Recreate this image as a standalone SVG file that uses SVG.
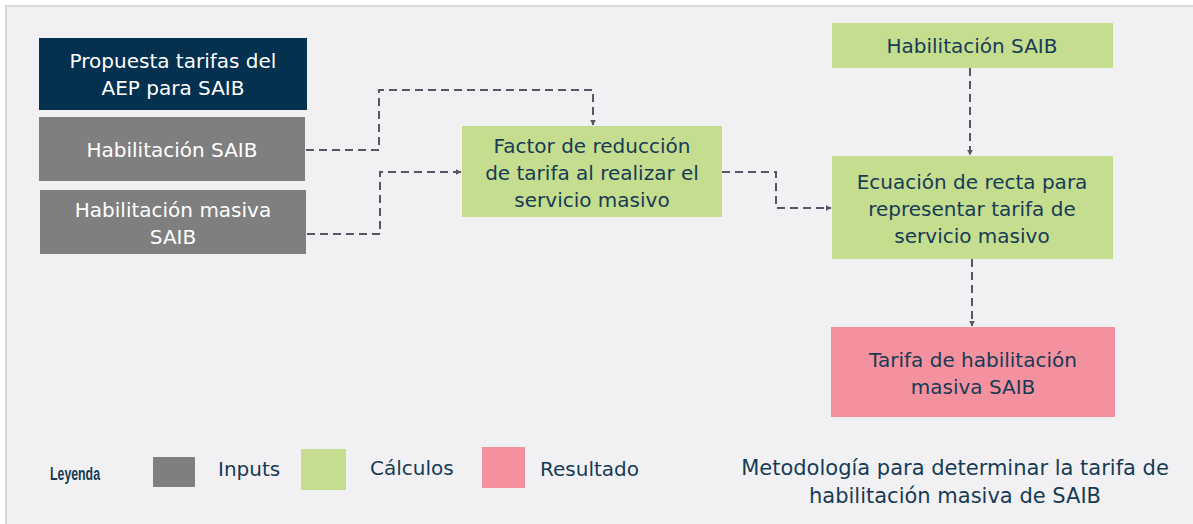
<svg xmlns="http://www.w3.org/2000/svg" width="1193" height="524" viewBox="0 0 1193 524">
<defs>
<marker id="arr" viewBox="0 0 10 10" refX="9" refY="5" markerWidth="6" markerHeight="6" orient="auto" markerUnits="userSpaceOnUse">
<path d="M0,0 L10,5 L0,10 z" fill="#5B5366"/>
</marker>
<style>
.t{font-family:"DejaVu Sans","Liberation Sans",Arial,sans-serif;font-size:20px;text-anchor:middle}
.w{fill:#FFFFFF}
.d{fill:#173B55}
.c{fill:none;stroke:#5B5366;stroke-width:2;stroke-dasharray:8,5;marker-end:url(#arr)}
.g{fill:#7F7F7F}
.gr{fill:#C5DD8F}
.p{fill:#F4919F}
.l{font-family:"DejaVu Sans","Liberation Sans",Arial,sans-serif;font-size:20px;fill:#173B55}
</style>
</defs>
<rect x="0" y="0" width="1193" height="524" fill="#FFFFFF"/>
<rect x="5" y="5" width="1188" height="519" fill="#F1F1F3"/>
<rect x="5" y="5" width="1188" height="2" fill="#D9D9D9"/>
<rect x="5" y="5" width="2" height="519" fill="#D9D9D9"/>

<g id="n-propuesta">
<rect x="39" y="38" width="268" height="72" fill="#03314F"/>
<text class="t w" x="173" y="68">Propuesta tarifas del</text>
<text class="t w" x="173" y="95">AEP para SAIB</text>
</g>
<g id="n-habilitacion">
<rect class="g" x="39" y="117" width="266" height="64"/>
<text class="t w" x="172" y="157">Habilitación SAIB</text>
</g>
<g id="n-habmasiva">
<rect class="g" x="40" y="190" width="266" height="64"/>
<text class="t w" x="173" y="217">Habilitación masiva</text>
<text class="t w" x="173" y="244">SAIB</text>
</g>
<g id="n-factor">
<rect class="gr" x="462" y="126" width="260" height="91"/>
<text class="t d" x="592" y="153">Factor de reducción</text>
<text class="t d" x="592" y="180">de tarifa al realizar el</text>
<text class="t d" x="592" y="207">servicio masivo</text>
</g>
<g id="n-habtop">
<rect class="gr" x="832" y="23" width="281" height="45"/>
<text class="t d" x="972" y="53">Habilitación SAIB</text>
</g>
<g id="n-ecuacion">
<rect class="gr" x="832" y="156" width="281" height="103"/>
<text class="t d" x="972" y="189">Ecuación de recta para</text>
<text class="t d" x="972" y="216">representar tarifa de</text>
<text class="t d" x="972" y="243">servicio masivo</text>
</g>
<g id="n-tarifa">
<rect class="p" x="831" y="327" width="284" height="90"/>
<text class="t d" x="973" y="367">Tarifa de habilitación</text>
<text class="t d" x="973" y="394">masiva SAIB</text>
</g>

<g id="connectors">
<path class="c" d="M306,150 H379 V90 H593 V125"/>
<path class="c" d="M307,234 H380 V172 H461"/>
<path class="c" d="M722,172 H776 V208 H831"/>
<path class="c" d="M970,68 V155"/>
<path class="c" d="M972,259 V326"/>
</g>

<g id="legend">
<text x="50" y="480" font-family="Liberation Sans,Arial,sans-serif" font-size="18" font-weight="bold" fill="#173B55" textLength="50" lengthAdjust="spacingAndGlyphs">Leyenda</text>
<rect class="g" x="153" y="457" width="42" height="30"/>
<text class="l" x="218" y="476">Inputs</text>
<rect class="gr" x="301" y="449" width="45" height="41"/>
<text class="l" x="370" y="475">Cálculos</text>
<rect class="p" x="482" y="447" width="43" height="41"/>
<text class="l" x="540" y="476">Resultado</text>
</g>
<g id="title">
<text class="t d" x="955" y="475" style="font-size:21px">Metodología para determinar la tarifa de</text>
<text class="t d" x="955" y="503" style="font-size:21px">habilitación masiva de SAIB</text>
</g>
</svg>
